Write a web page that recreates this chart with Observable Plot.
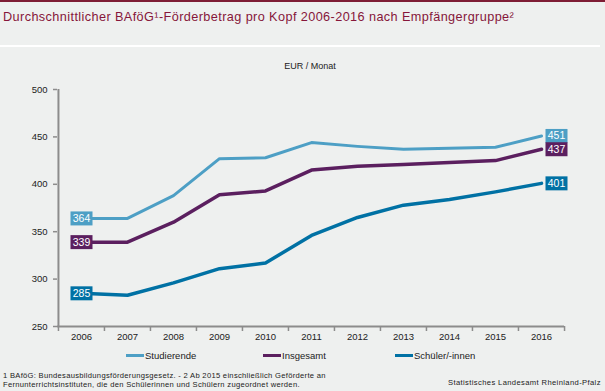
<!DOCTYPE html>
<html>
<head>
<meta charset="utf-8">
<script src="https://cdn.jsdelivr.net/npm/d3@7"></script>
<script src="https://cdn.jsdelivr.net/npm/@observablehq/plot@0.6"></script>
<style>
  html, body { margin: 0; padding: 0; background: #eef0ef; }
  #wrap { position: relative; width: 605px; height: 391px; overflow: hidden; background: #eef0ef; font-family: "Liberation Sans", Arial, sans-serif; }
  #topbar { position: absolute; left: 0; top: 0; width: 605px; height: 2px; background: #7e1d35; }
  #title { position: absolute; left: 3px; top: 10px; font-size: 12.7px; letter-spacing: 0.4px; color: #86163a; white-space: nowrap; }
  #sep { position: absolute; left: 0; top: 45px; width: 600px; height: 2px; background: #ffffff; }
  #unit { position: absolute; left: 0; width: 620px; top: 61px; text-align: center; font-size: 9px; color: #222; }
  #chart { position: absolute; left: 0; top: 0; }
  .leg { position: absolute; top: 350px; font-size: 9.5px; color: #222; white-space: nowrap; display: flex; align-items: center; }
  .leg span.sw { display: inline-block; width: 18px; height: 3px; margin-right: 1px; }
  .foot { position: absolute; font-size: 7.6px; color: #222; white-space: nowrap; letter-spacing: 0.3px; }
</style>
</head>
<body>
<div id="wrap">
  <div id="topbar"></div>
  <div id="title">Durchschnittlicher BAföG¹-Förderbetrag pro Kopf 2006-2016 nach Empfängergruppe²</div>
  <div id="sep"></div>
  <div id="unit">EUR / Monat</div>
  <div id="chart"></div>
  <div id="legend"></div>
  <div class="foot" style="left:3px; top:371px;">1 BAföG: Bundesausbildungsförderungsgesetz. - 2 Ab 2015 einschließlich Geförderte an</div>
  <div class="foot" style="left:3px; top:380px;">Fernunterrichtsinstituten, die den Schülerinnen und Schülern zugeordnet werden.</div>
  <div class="foot" style="left:448px; top:378px; letter-spacing:0.38px;">Statistisches Landesamt Rheinland-Pfalz</div>
</div>
<script>
// ---- data ----
const years = ["2006","2007","2008","2009","2010","2011","2012","2013","2014","2015","2016"];
const seriesNames = ["Studierende", "Insgesamt", "Schüler/-innen"];
const studierende = [364, 364, 388, 427, 428, 444, 440, 437, 438, 439, 451];
const insgesamt   = [339, 339, 360, 389, 393, 415, 419, 421, 423, 425, 437];
const schueler    = [285, 283, 296, 311, 317, 346, 365, 378, 384, 392, 401];
const yTicks = [250, 300, 350, 400, 450, 500];

// ---- styles ----
const colors = ["#4d9fc5", "#5b1f5f", "#0071a4"];
const widths = [3, 3.5, 3.5];

const valuesBySeries = [studierende, insgesamt, schueler];
const rows = [];
seriesNames.forEach((s, si) => {
  years.forEach((yr, i) => rows.push({series: s, year: yr, value: valuesBySeries[si][i]}));
});
const firstRows = rows.filter(d => d.year === years[0]);
const lastRows = rows.filter(d => d.year === years[years.length - 1]);

const W = 605, H = 391, ML = 57, MR = 41, MT = 89, MB = 65;
const step = (W - ML - MR) / years.length;
const boxSymbol = { draw(ctx) { ctx.rect(-11, -7, 22, 14); } };
const axisGrey = "#8c8c8c";
const font = "Liberation Sans, Arial, sans-serif";

const chart = Plot.plot({
  width: W, height: H,
  marginLeft: ML, marginRight: MR, marginTop: MT, marginBottom: MB,
  style: { background: "transparent", fontFamily: font, fontSize: "9.5px", color: "#222" },
  x: { type: "point", domain: years, padding: 0.5, axis: null },
  y: { domain: [250, 500], axis: null },
  color: { domain: seriesNames, range: colors },
  marks: [
    // axes lines
    Plot.ruleY([250], { stroke: axisGrey, strokeWidth: 2 }),
    Plot.ruleX([years[0]], { y1: 250, y2: 500, dx: -step / 2, stroke: axisGrey, strokeWidth: 2 }),
    Plot.axisY(yTicks, { anchor: "left", tickSize: 4, tickPadding: 6, stroke: axisGrey, strokeWidth: 1.5, fill: "#222", fontSize: 9.5, label: null }),
    // x boundary ticks
    Plot.axisX(years, { anchor: "bottom", tickSize: 5, tickFormat: () => "", dx: -step / 2, stroke: axisGrey, strokeWidth: 1.5, label: null }),
    Plot.axisX([years[years.length - 1]], { anchor: "bottom", tickSize: 5, tickFormat: () => "", dx: step / 2, stroke: axisGrey, strokeWidth: 1.5, label: null }),
    // x labels
    Plot.axisX(years, { anchor: "bottom", tickSize: 0, tickPadding: 7, fill: "#222", fontSize: 9.5, label: null }),
    // lines
    ...seriesNames.map((s, si) => Plot.line(rows.filter(d => d.series === s), {
      x: "year", y: "value", stroke: colors[si], strokeWidth: widths[si], curve: "linear"
    })),
    // value boxes
    Plot.dot(firstRows, { x: "year", y: "value", symbol: boxSymbol, fill: "series", stroke: null, r: 5 }),
    Plot.dot(lastRows, { x: "year", y: "value", symbol: boxSymbol, fill: "series", stroke: null, r: 5, dx: 15 }),
    Plot.text(firstRows, { x: "year", y: "value", text: d => String(d.value), fill: "white", fontSize: 10.5 }),
    Plot.text(lastRows, { x: "year", y: "value", text: d => String(d.value), fill: "white", fontSize: 10.5, dx: 15 })
  ]
});
document.getElementById("chart").appendChild(chart);

// legend
const legPos = [126, 263, 395];
const leg = document.getElementById("legend");
seriesNames.forEach((s, i) => {
  const el = document.createElement("div");
  el.className = "leg";
  el.style.left = legPos[i] + "px";
  el.innerHTML = `<span class="sw" style="background:${colors[i]}"></span>${s}`;
  leg.appendChild(el);
});
</script>
</body>
</html>
